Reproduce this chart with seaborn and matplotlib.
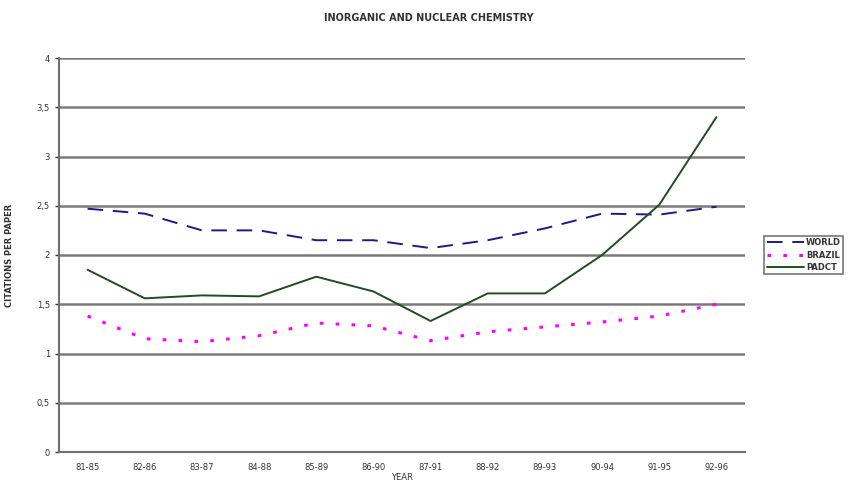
import matplotlib
matplotlib.use("Agg")
import matplotlib.pyplot as plt
import seaborn as sns
import pandas as pd

years = ["81-85", "82-86", "83-87", "84-88", "85-89", "86-90", "87-91",
         "88-92", "89-93", "90-94", "91-95", "92-96"]
world = [2.47, 2.42, 2.25, 2.25, 2.15, 2.15, 2.07, 2.15, 2.27, 2.42, 2.41, 2.49]
brazil = [1.38, 1.15, 1.12, 1.18, 1.31, 1.28, 1.13, 1.22, 1.27, 1.32, 1.38, 1.50]
padct = [1.85, 1.56, 1.59, 1.58, 1.78, 1.63, 1.33, 1.61, 1.61, 2.00, 2.51, 3.40]
series_names = ["WORLD", "BRAZIL", "PADCT"]
yticks = [0, 0.5, 1, 1.5, 2, 2.5, 3, 3.5, 4]
ytick_labels = ["0", "0,5", "1", "1,5", "2", "2,5", "3", "3,5", "4"]

df = pd.DataFrame({
    "year": years * 3,
    "value": world + brazil + padct,
    "series": [series_names[0]] * 12 + [series_names[1]] * 12 + [series_names[2]] * 12,
})

sns.set_style("white")
plt.rcParams["font.family"] = ["DejaVu Sans"]

fig = plt.figure(figsize=(8.58, 4.92), dpi=100)
ax = fig.add_axes([59 / 858, 1 - 452 / 492, (745 - 59) / 858, (452 - 58) / 492])

palette = {"WORLD": "#1a1a8c", "BRAZIL": "#ff00ff", "PADCT": "#1f4d1f"}
dashes = {"WORLD": (8, 5), "BRAZIL": (1.2, 4), "PADCT": ""}
sns.lineplot(data=df, x="year", y="value", hue="series", style="series",
             palette=palette, dashes=dashes, sort=False, ax=ax, linewidth=1.4,
             legend=True)
for line in ax.get_lines():
    if line.get_color() == "#ff00ff":
        line.set_linewidth(2.2)

ax.set_xlim(-0.5, len(years) - 0.5)
ax.set_ylim(0, 4)
ax.set_yticks(yticks)
ax.set_yticklabels(ytick_labels)
ax.yaxis.grid(True, color="#7a7a7a", linewidth=1.8)
ax.set_axisbelow(True)
for s in ["top", "right"]:
    ax.spines[s].set_visible(False)
for s in ["left", "bottom"]:
    ax.spines[s].set_color("#707070")
    ax.spines[s].set_linewidth(1.5)
ax.tick_params(axis="both", labelsize=6, colors="#333333", length=3, direction="out",
               left=True, bottom=True, width=1)
ax.set_xticks([i + 0.5 for i in range(len(years) - 1)], minor=True)
ax.tick_params(axis="x", which="major", length=0, pad=8)
ax.tick_params(axis="x", which="minor", length=3, color="#555555")
ax.set_xlabel("YEAR", fontsize=6, color="#333333", labelpad=1)
ax.set_ylabel("CITATIONS PER PAPER", fontsize=6, color="#333333", labelpad=16,
              fontweight="semibold")
fig.text(0.5, 1 - 18 / 492, "INORGANIC AND NUCLEAR CHEMISTRY", ha="center", va="center",
         fontsize=7, color="#333333", fontweight="semibold")

handles, labels = ax.get_legend_handles_labels()
leg = ax.legend(handles, labels, loc="center left", bbox_to_anchor=(1.022, 0.5),
                fontsize=6, frameon=True, fancybox=False, handlelength=4.5,
                borderpad=0.3, labelspacing=0.4, handletextpad=0.2)
leg.get_frame().set_edgecolor("#555555")
leg.get_frame().set_linewidth(1.2)
for t in leg.get_texts():
    t.set_color("#333333")
    t.set_fontweight("semibold")

fig.savefig("out.png", dpi=100)
